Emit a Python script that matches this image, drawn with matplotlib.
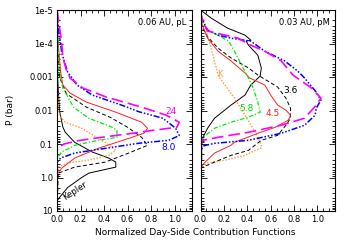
import matplotlib
matplotlib.use('Agg')
import matplotlib.pyplot as plt
import numpy as np
from matplotlib.ticker import FixedLocator, MultipleLocator, LogLocator, NullFormatter

# ---- left panel: 0.06 AU, pL  (log10 P in bar, normalized contribution) ----
l_kep_logp = [-5, -3, -2, -1.5, -1.35, -1.05, -0.76, -0.58, -0.46, -0.31, -0.13, 0.0, 0.3, 0.6, 0.7, 1.0]
l_kep_cf = [0, 0.005, 0.02, 0.05, 0.07, 0.15, 0.30, 0.44, 0.50, 0.50, 0.27, 0.21, 0.09, 0.02, 0.0, 0.0]

l_k_logp = [-5, -3, -2, -1.8, -1.65, -1.47, -1.05, -0.81, -0.66, -0.52, -0.43, -0.31, 1.0]
l_k_cf = [0, 0.003, 0.01, 0.03, 0.07, 0.21, 0.41, 0.50, 0.44, 0.27, 0.09, 0.01, 0.0]

l_36_logp = [-5, -4, -3.0, -2.5, -2.1, -1.8, -1.5, -1.2, -0.96, -0.73, -0.46, -0.31, -0.13, 1.0]
l_36_cf = [0, 0.005, 0.02, 0.08, 0.25, 0.45, 0.60, 0.72, 0.77, 0.61, 0.41, 0.15, 0.01, 0.0]

l_45_logp = [-5, -4, -3.15, -2.76, -2.52, -2.25, -1.95, -1.65, -1.47, -1.32, -1.11, -0.87, -0.58, -0.28, -0.1, 1.0]
l_45_cf = [0, 0.01, 0.03, 0.05, 0.11, 0.25, 0.50, 0.72, 0.77, 0.74, 0.56, 0.35, 0.15, 0.04, 0.0, 0.0]

l_58_logp = [-5, -4, -3.27, -2.67, -2.1, -1.77, -1.5, -1.41, -1.2, -1.11, -0.96, -0.76, -0.58, 1.0]
l_58_cf = [0, 0.01, 0.01, 0.05, 0.14, 0.27, 0.47, 0.51, 0.51, 0.35, 0.15, 0.04, 0.0, 0.0]

l_80_logp = [-5, -4.5, -4, -3.72, -3.15, -2.76, -2.46, -2.16, -1.96, -1.77, -1.47, -1.25, -1.11, -1.02, -0.87, -0.73, -0.58, -0.45, 1.0]
l_80_cf = [0, 0.01, 0.03, 0.04, 0.09, 0.17, 0.30, 0.55, 0.70, 0.90, 1.01, 1.04, 0.95, 0.69, 0.41, 0.15, 0.03, 0.0, 0.0]

l_24_logp = [-5, -4.5, -4, -3.57, -3.2, -2.97, -2.67, -2.4, -2.1, -1.86, -1.65, -1.5, -1.4, -1.3, -1.2, -1.1, -1.0, -0.9, -0.8, 1.0]
l_24_cf = [0, 0.02, 0.04, 0.05, 0.08, 0.11, 0.22, 0.42, 0.72, 0.93, 1.04, 1.02, 0.80, 0.60, 0.38, 0.18, 0.06, 0.01, 0.0, 0.0]

# ---- right panel: 0.03 AU, pM ----
r_kep_logp = [-5, -4.76, -4.46, -4.25, -4.10, -4.07, -3.95, -3.65, -3.27, -3.03, -2.76, -2.46, -2.16, -1.77, -1.47, -1.2, -0.96, -0.5, -0.45, 1.0]
r_kep_cf = [0, 0.09, 0.23, 0.38, 0.43, 0.39, 0.41, 0.49, 0.52, 0.51, 0.43, 0.38, 0.26, 0.12, 0.06, 0.02, 0.01, 0.01, 0.0, 0.0]

r_k_logp = [-5, -4.46, -3.86, -3.06, -2.85, -2.37, -1.86, -1.35, -0.96, -0.88, -0.81, -0.66, -0.52, -0.43, -0.31, 1.0]
r_k_cf = [0, 0.04, 0.09, 0.15, 0.19, 0.29, 0.38, 0.47, 0.52, 0.52, 0.47, 0.38, 0.21, 0.06, 0.0, 0.0]

r_36_logp = [-5, -4.5, -4.2, -3.86, -3.57, -3.27, -3.06, -2.70, -2.37, -2.07, -1.77, -1.56, -1.26, -1.11, -0.81, -0.66, -0.46, -0.28, 1.0]
r_36_cf = [0, 0.01, 0.06, 0.15, 0.26, 0.41, 0.49, 0.66, 0.73, 0.77, 0.77, 0.73, 0.66, 0.52, 0.41, 0.26, 0.12, 0.0, 0.0]

r_45_logp = [-5, -4.6, -4.16, -3.77, -3.48, -3.12, -2.97, -2.76, -2.46, -2.16, -2.01, -1.86, -1.71, -1.50, -1.32, -1.05, -0.96, -0.73, -0.46, -0.31, 1.0]
r_45_cf = [0, 0.01, 0.06, 0.15, 0.26, 0.38, 0.42, 0.55, 0.60, 0.66, 0.73, 0.77, 0.75, 0.64, 0.49, 0.29, 0.26, 0.12, 0.04, 0.0, 0.0]

r_58_logp = [-5, -4.6, -4.40, -4.25, -4.07, -3.77, -3.36, -2.97, -2.67, -2.25, -1.95, -1.80, -1.65, -1.47, -1.20, -1.0, 1.0]
r_58_cf = [0, 0.02, 0.06, 0.15, 0.24, 0.29, 0.35, 0.41, 0.45, 0.49, 0.51, 0.41, 0.26, 0.12, 0.02, 0.0, 0.0]

r_80_logp = [-5, -4.75, -4.40, -4.25, -4.16, -4.07, -3.77, -3.48, -3.18, -2.97, -2.55, -2.31, -2.07, -1.86, -1.56, -1.32, -1.11, -1.02, -0.95, -0.81, 1.0]
r_80_cf = [0, 0.01, 0.06, 0.15, 0.26, 0.43, 0.55, 0.72, 0.83, 0.89, 0.99, 1.03, 0.99, 0.98, 0.89, 0.69, 0.41, 0.12, 0.03, 0.0, 0.0]

r_24_logp = [-5, -4.76, -4.37, -4.25, -4.16, -3.95, -3.77, -3.48, -3.06, -2.67, -2.37, -2.16, -1.77, -1.56, -1.35, -1.20, -1.11, -1.0, 1.0]
r_24_cf = [0, 0.01, 0.06, 0.21, 0.32, 0.43, 0.55, 0.69, 0.79, 0.95, 1.03, 0.99, 0.89, 0.69, 0.41, 0.15, 0.02, 0.0, 0.0]

ytick_vals = [1e-5, 1e-4, 1e-3, 1e-2, 1e-1, 1.0, 10.0]
ytick_labels = ['1e-5', '1e-4', '0.001', '0.01', '0.1', '1.0', '10']
xtick_vals = [0.0, 0.2, 0.4, 0.6, 0.8, 1.0]

# line styles shared by both panels
styles = {
    'kep': dict(color='black', lw=0.7, ls='-'),
    'k': dict(color='#ff9933', lw=1.0, ls=(0, (1, 1.2))),
    '36': dict(color='black', lw=0.7, ls=(0, (4, 2.5))),
    '45': dict(color='#ff2020', lw=0.7, ls='-'),
    '58': dict(color='#00ee00', lw=0.9, ls=(0, (3.5, 1.5, 1, 1.5))),
    '80': dict(color='#0000ff', lw=1.1, ls=(0, (4, 1.2, 1, 1.2, 1, 1.2, 1, 1.2))),
    '24': dict(color='#ff00ff', lw=1.2, ls=(0, (7, 3))),
}

plt.rcParams['font.family'] = 'DejaVu Sans'
fig = plt.figure(figsize=(3.5, 2.5), dpi=100)
ax1 = fig.add_axes([0.163, 0.156, 0.386, 0.804])
ax2 = fig.add_axes([0.573, 0.156, 0.384, 0.804])


def draw_panel(ax, curves):
    for key, logp, cf in curves:
        ax.plot(cf, 10.0 ** np.array(logp), **styles[key])
    ax.set_yscale('log')
    ax.set_ylim(10, 1e-5)
    ax.set_xlim(0, 1.15)
    ax.yaxis.set_major_locator(FixedLocator(ytick_vals))
    ax.yaxis.set_minor_locator(LogLocator(base=10, subs=np.arange(2, 10)))
    ax.yaxis.set_minor_formatter(NullFormatter())
    ax.set_xticks(xtick_vals)
    ax.set_xticklabels(['%.1f' % v for v in xtick_vals])
    ax.xaxis.set_minor_locator(MultipleLocator(0.05))
    ax.tick_params(which='both', direction='in', top=True, right=True,
                   labelsize=6, pad=3, width=0.6)
    ax.tick_params(which='major', length=4)
    ax.tick_params(which='minor', length=2)
    for s in ax.spines.values():
        s.set_linewidth(0.8)


draw_panel(ax1, [('kep', l_kep_logp, l_kep_cf), ('k', l_k_logp, l_k_cf),
                 ('36', l_36_logp, l_36_cf), ('45', l_45_logp, l_45_cf),
                 ('58', l_58_logp, l_58_cf), ('80', l_80_logp, l_80_cf),
                 ('24', l_24_logp, l_24_cf)])
draw_panel(ax2, [('kep', r_kep_logp, r_kep_cf), ('k', r_k_logp, r_k_cf),
                 ('36', r_36_logp, r_36_cf), ('45', r_45_logp, r_45_cf),
                 ('58', r_58_logp, r_58_cf), ('80', r_80_logp, r_80_cf),
                 ('24', r_24_logp, r_24_cf)])

ax1.set_yticklabels(ytick_labels)
ax2.set_yticklabels([])
fig.text(0.03, 0.56, 'P (bar)', rotation=90, ha='center', va='center', fontsize=6.5)
fig.text(0.557, 0.07, 'Normalized Day-Side Contribution Functions',
         ha='center', va='center', fontsize=6.5)

ax1.text(0.955, 0.94, '0.06 AU, pL', transform=ax1.transAxes, ha='right', va='center', fontsize=6)
ax2.text(0.96, 0.94, '0.03 AU, pM', transform=ax2.transAxes, ha='right', va='center', fontsize=6)

# curve labels
ax1.text(0.97, 10 ** -1.98, '24', color='#ff00ff', fontsize=6.5, ha='center', va='center')
ax1.text(0.95, 10 ** -0.9, '8.0', color='#0000ff', fontsize=6.5, ha='center', va='center')
ax1.text(0.155, 10 ** 0.41, 'Kepler', color='black', fontsize=6, ha='center', va='center', rotation=33)
ax2.text(0.165, 10 ** -3.06, 'K', color='#ff9933', fontsize=6, ha='center', va='center')
ax2.text(0.39, 10 ** -2.07, '5.8', color='#00dd00', fontsize=6.5, ha='center', va='center')
ax2.text(0.62, 10 ** -1.92, '4.5', color='#ff2020', fontsize=6.5, ha='center', va='center')
ax2.text(0.77, 10 ** -2.61, '3.6', color='black', fontsize=6.5, ha='center', va='center')

fig.savefig('out.png', dpi=100)
